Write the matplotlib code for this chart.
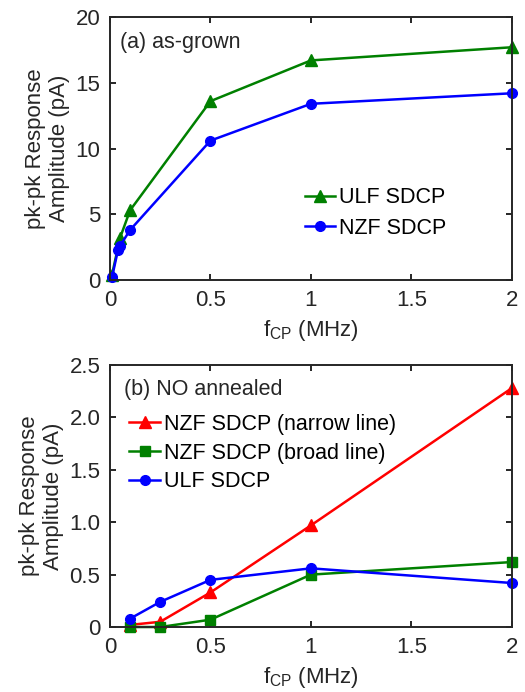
import matplotlib.pyplot as plt

plt.rcParams['font.family'] = ['Liberation Sans', 'DejaVu Sans']
plt.rcParams['mathtext.fontset'] = 'custom'
plt.rcParams['mathtext.rm'] = 'Liberation Sans'
plt.rcParams['mathtext.it'] = 'Liberation Sans'

# (a) as-grown
ulf_a_x = [0.01, 0.05, 0.1, 0.5, 1, 2]
ulf_a_y = [0.4, 3.2, 5.3, 13.6, 16.7, 17.7]
nzf_a_x = [0.01, 0.04, 0.05, 0.1, 0.5, 1, 2]
nzf_a_y = [0.2, 2.3, 2.6, 3.8, 10.6, 13.4, 14.2]

# (b) NO annealed
b_x = [0.1, 0.25, 0.5, 1, 2]
nzf_narrow = [0.02, 0.05, 0.33, 0.97, 2.28]
nzf_broad = [0.0, 0.0, 0.07, 0.5, 0.62]
ulf_b = [0.08, 0.24, 0.45, 0.56, 0.42]

GREEN = '#008000'
BLUE = '#0000ff'
RED = '#ff0000'
DARK = '#262626'
FS = 16

fig = plt.figure(figsize=(5.25, 6.92), dpi=100)
ax1 = fig.add_axes([0.2095, 0.5954, 0.7655, 0.38])
ax2 = fig.add_axes([0.2095, 0.0939, 0.7655, 0.3786])


def style(ax):
    for s in ax.spines.values():
        s.set_linewidth(1.4)
        s.set_color(DARK)
    ax.tick_params(direction='in', top=True, right=True, labelsize=FS,
                   width=1.4, length=4, color=DARK, labelcolor=DARK, pad=7)
    ax.set_xlim(0, 2)
    ax.set_xticks([0, 0.5, 1, 1.5, 2])
    ax.set_xticklabels(['0', '0.5', '1', '1.5', '2'])
    ax.set_xlabel(r'f$_{\mathrm{CP}}$ (MHz)', fontsize=FS, color=DARK, labelpad=5)
    ax.set_ylabel('pk-pk Response\nAmplitude (pA)', fontsize=FS, color=DARK,
                  linespacing=1.15, labelpad=4)


ax1.plot(ulf_a_x, ulf_a_y, '-^', color=GREEN, lw=1.8, ms=9, label='ULF SDCP', clip_on=False)
ax1.plot(nzf_a_x, nzf_a_y, '-o', color=BLUE, lw=1.8, ms=7, label='NZF SDCP', clip_on=False)
style(ax1)
ax1.set_ylim(0, 20)
ax1.set_yticks([0, 5, 10, 15, 20])
ax1.text(0.025, 0.905, '(a) as-grown', transform=ax1.transAxes, fontsize=FS - 0.5,
         va='center', color=DARK)
ax1.legend(loc='center left', bbox_to_anchor=(0.463, 0.255), frameon=False, fontsize=FS - 0.5,
           handlelength=1.4, handletextpad=0.2, labelspacing=0.45, borderaxespad=0)

ax2.plot(b_x, nzf_narrow, '-^', color=RED, lw=1.8, ms=9, label='NZF SDCP (narrow line)', clip_on=False)
ax2.plot(b_x, nzf_broad, '-s', color=GREEN, lw=1.8, ms=7, label='NZF SDCP (broad line)', clip_on=False)
ax2.plot(b_x, ulf_b, '-o', color=BLUE, lw=1.8, ms=7, label='ULF SDCP', clip_on=False)
style(ax2)
ax2.set_ylim(0, 2.5)
ax2.set_yticks([0, 0.5, 1.0, 1.5, 2.0, 2.5])
ax2.set_yticklabels(['0', '0.5', '1.0', '1.5', '2.0', '2.5'])
ax2.text(0.035, 0.905, '(b) NO annealed', transform=ax2.transAxes, fontsize=FS - 0.5,
         va='center', color=DARK)
ax2.legend(loc='center left', bbox_to_anchor=(0.027, 0.664), frameon=False, fontsize=FS - 0.5,
           handlelength=1.4, handletextpad=0.2, labelspacing=0.35, borderaxespad=0)

fig.savefig('out.png', dpi=100)
